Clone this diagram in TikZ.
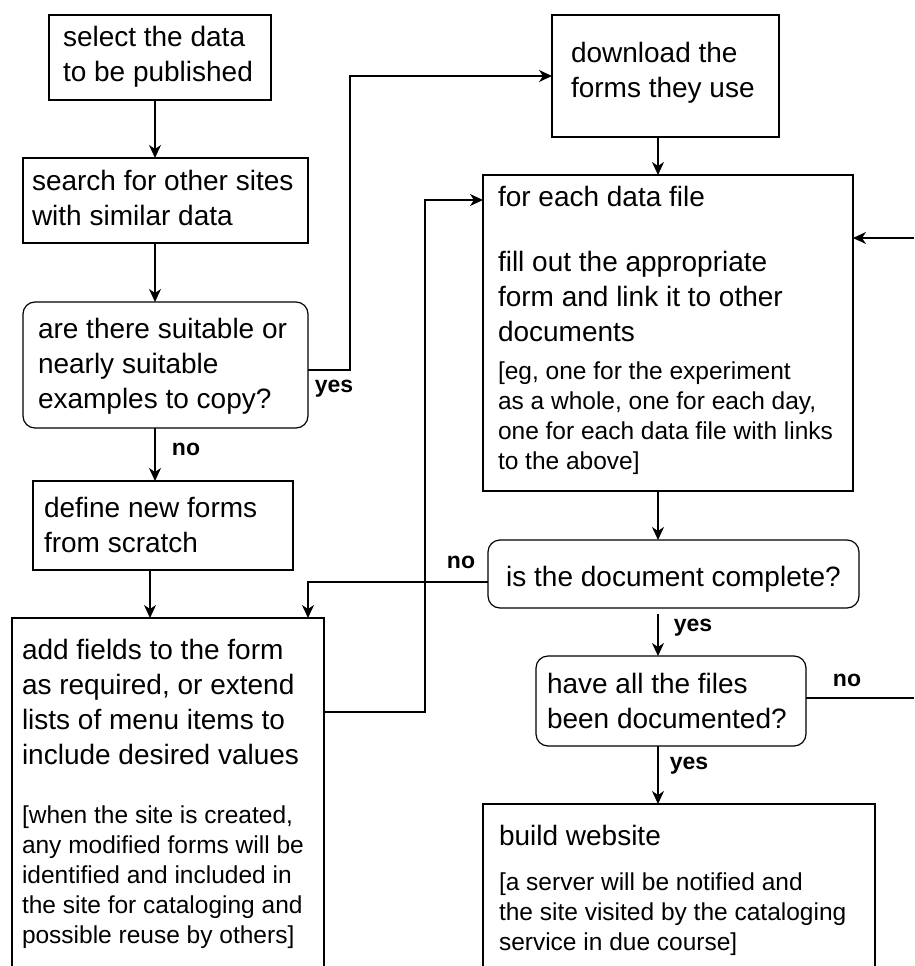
\documentclass[tikz,border=0pt]{standalone}
\usepackage{fontspec}
\setmainfont{Liberation Sans}
\usepackage{tikz}
\usetikzlibrary{arrows.meta,positioning,calc}

\newcommand\mainfs{\fontsize{28}{35}\selectfont}
\newcommand\notefs{\fontsize{24.5}{30}\selectfont}

\tikzset{
  box/.style={draw, line width=1.2pt, anchor=north west, align=flush left, inner ysep=0pt, outer sep=0pt, font=\mainfs},
  dec/.style={box, rounded corners=12pt},
  lbl/.style={font={\fontsize{23}{27}\selectfont\bfseries}, inner sep=0pt},
  arr/.style={line width=1.2pt, -{Stealth[length=13pt,width=12pt,inset=4pt]}}
}

\begin{document}
\begin{tikzpicture}[x=1pt, y=-1pt]
        \useasboundingbox (0,0) rectangle (914,966);
        \clip (0,0) rectangle (914,966);

        \node[box, inner xsep=14pt, text width=194pt, text height=32pt, text depth=53pt] (sel) at (49,15) {select the data\\to be published};
        \node[box, inner xsep=9pt, text width=267pt, text height=32pt, text depth=53pt] (srch) at (23,158) {search for other sites\\with similar data};
        \node[dec, inner xsep=15pt, text width=255pt, text height=36pt, text depth=90pt] (suit) at (23,302) {are there suitable or\\nearly suitable\\examples to copy?};
        \node[box, inner xsep=11pt, text width=238pt, text height=36pt, text depth=53pt] (newf) at (33,481) {define new forms\\from scratch};
        \node[box, inner xsep=10pt, text width=292pt, text height=41pt, text depth=400pt] (addf) at (12,618) {add fields to the form\\as required, or extend\\lists of menu items to\\include desired values\par\vspace{29pt}{\notefs [when the site is created,\\any modified forms will be\\identified and included in\\the site for cataloging and\\possible reuse by others]\par}};

        \node[box, inner xsep=19pt, text width=189pt, text height=48pt, text depth=74pt] (dwn) at (552,15) {download the\\forms they use};
        \node[box, inner xsep=15pt, text width=340pt, text height=31pt, text depth=285pt] (fill) at (483,175) {for each data file\par\vspace{30pt}fill out the appropriate\\form and link it to other\\documents\par\vspace{8pt}{\notefs [eg, one for the experiment\\as a whole, one for each day,\\one for each data file with links\\to the above]\par}};
        \node[dec, align=flush center, inner xsep=10pt, text width=351pt, text height=46pt, text depth=22pt] (cmpl) at (488,540) {is the document complete?};
        \node[dec, inner xsep=11pt, text width=248pt, text height=37pt, text depth=53pt] (allf) at (536,656) {have all the files\\been documented?};
        \node[box, inner xsep=16pt, text width=360pt, text height=41pt, text depth=300pt] (bld) at (483,804) {build website\par\vspace{15pt}{\notefs [a server will be notified and\\the site visited by the cataloging\\service in due course]\par}};

        \node[lbl] (yesA) at (334,389) {yes};
        \node[lbl] (noA) at (186,449) {no};
        \node[lbl] (noB) at (461,562) {no};
        \node[lbl] (yesB) at (693,628) {yes};
        \node[lbl] (noC) at (847,680) {no};
        \node[lbl] (yesC) at (689,766) {yes};

        \coordinate (lcol) at (155,0);
        \coordinate (fcol) at (150,0);
        \coordinate (rcol) at (658,0);
        \coordinate (ncol) at (308,0);
        \coordinate (yjog) at (350,0);
        \coordinate (loop) at (425,712);
        \coordinate (loopT) at (425,200);
        \coordinate (inR) at (914,238);
        \coordinate (outR) at (914,698);

        \draw[arr] (sel.south -| lcol) -- (srch.north -| lcol);
        \draw[arr] (srch.south -| lcol) -- (suit.north -| lcol);
        \draw[arr] (suit.south -| lcol) -- (newf.north -| lcol);
        \draw[arr] (newf.south -| fcol) -- (addf.north -| fcol);
        \draw[arr] ([yshift=-5pt]suit.east) -| (yjog |- dwn.west) -- (dwn.west);
        \draw[arr] (addf.east |- loop) -- (loop) |- (loopT -| fill.west);

        \draw[arr] (dwn.south -| rcol) -- (fill.north -| rcol);
        \draw[arr] (inR) -- (inR -| fill.east);
        \draw[arr] (fill.south -| rcol) -- (cmpl.north -| rcol);
        \draw[arr] ([yshift=-8pt]cmpl.west) -| (ncol |- addf.north);
        \draw[arr] ($(cmpl.south -| rcol)+(0,6)$) -- (allf.north -| rcol);
        \draw[arr] (allf.south -| rcol) -- (bld.north -| rcol);
        \draw[line width=1.2pt] (allf.east |- outR) -- (outR);
    \end{tikzpicture}
\end{document}
